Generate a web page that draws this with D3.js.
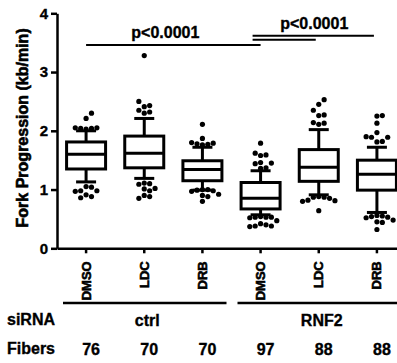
<!DOCTYPE html>
<meta charset="utf-8">
<style>
    body { margin: 0; background: #fff; }
    svg text { font-family: "Liberation Sans", Arial, sans-serif; font-weight: bold; fill: #000; stroke: #000; stroke-width: 0.35px; }
    svg text.rot { stroke-width: 0.6px; }
</style>
<svg width="397" height="363"></svg>

<script src="https://d3js.org/d3.v7.min.js"></script>
<script>
    var categories = ["DMSO", "LDC", "DRB", "DMSO", "LDC", "DRB"],
        sirna = ["ctrl", "ctrl", "ctrl", "RNF2", "RNF2", "RNF2"],
        fibers = [76, 70, 70, 97, 88, 88];

    // box stats: lower whisker, Q1, median, Q3, upper whisker
    var whiskerLow = [1.13, 1.19, 0.99, 0.57, 0.91, 0.61],
        q1 = [1.35, 1.37, 1.15, 0.67, 1.14, 0.99],
        median = [1.60, 1.62, 1.34, 0.85, 1.38, 1.26],
        q3 = [1.81, 1.91, 1.49, 1.12, 1.68, 1.50],
        whiskerHigh = [2.00, 2.21, 1.72, 1.32, 2.02, 1.72];

    var outliers = [
        [2.30, 2.21, 2.05, 2.04, 2.04, 2.05, 2.03, 1.05, 1.04, 0.98, 0.98, 0.97, 0.91, 0.88, 0.86],
        [3.28, 2.50, 2.43, 2.41, 2.35, 2.32, 2.30, 1.11, 1.10, 1.09, 1.02, 1.01, 0.98, 0.90, 0.88, 0.85],
        [2.11, 1.87, 1.80, 1.79, 1.77, 1.76, 1.78, 1.00, 0.98, 0.99, 1.00, 0.97, 0.92, 0.90, 0.88, 0.80],
        [1.79, 1.62, 1.59, 1.58, 1.45, 1.46, 1.44, 1.36, 1.37, 0.54, 0.53, 0.53, 0.52, 0.53, 0.47, 0.42, 0.38, 0.37, 0.38, 0.40],
        [2.53, 2.45, 2.35, 2.27, 2.26, 2.14, 2.13, 2.11, 0.87, 0.88, 0.87, 0.85, 0.81, 0.80, 0.82, 0.64],
        [2.26, 2.25, 2.13, 1.97, 1.90, 1.89, 1.89, 1.82, 1.81, 0.56, 0.54, 0.53, 0.52, 0.55, 0.48, 0.45, 0.44, 0.32]
    ];

    var yTicks = [0, 1, 2, 3, 4];

    // significance bars: from index, to index, level, label
    var sigFrom = [0, 3, 3],
        sigTo = [3, 5, 4],
        sigLevel = [3.46, 3.62, 3.55],
        sigLabel = ["p<0.0001", "p<0.0001", ""];

    var svg = d3.select("svg"),
        idx = d3.range(categories.length);

    var x = d3.scaleBand().domain(idx).range([57, 406]),
        bw = x.bandwidth(),
        cx = function (i) { return x(i) + bw / 2; },
        y = d3.scaleLinear().domain([0, 4]).range([248.3, 13.3]);

    // axes
    var yAxis = svg.append("g")
        .attr("transform", "translate(57,0)")
        .call(d3.axisLeft(y).tickValues(yTicks).tickFormat(d3.format("d")).tickSize(6).tickSizeOuter(0));
    yAxis.select(".domain").attr("stroke-width", 2.5);
    yAxis.selectAll(".tick line").attr("stroke-width", 2.5);
    yAxis.selectAll(".tick text").attr("font-size", 15).attr("x", -9);

    var xAxis = svg.append("g")
        .attr("transform", "translate(0," + y(0) + ")")
        .call(d3.axisBottom(x).tickSize(5).tickSizeOuter(0).tickFormat(function (i) { return categories[i]; }));
    xAxis.select(".domain").attr("stroke-width", 2.5);
    xAxis.selectAll(".tick line").attr("stroke-width", 2.5);
    xAxis.selectAll(".tick text")
        .attr("class", "rot")
        .attr("font-size", 13)
        .attr("transform", "rotate(-90)")
        .attr("x", -13).attr("y", 0).attr("dy", "0.35em")
        .attr("text-anchor", "end");

    svg.append("text")
        .attr("class", "rot")
        .attr("transform", "translate(28," + y(2.05) + ") rotate(-90)")
        .attr("text-anchor", "middle")
        .attr("font-size", 16)
        .text("Fork Progression (kb/min)");

    // boxes
    var boxW = 39, capW = 20;
    var g = svg.append("g").attr("stroke", "#000").attr("stroke-width", 3).attr("fill", "none");
    idx.forEach(function (i) {
        var c = cx(i);
        g.append("line").attr("x1", c).attr("x2", c).attr("y1", y(whiskerHigh[i])).attr("y2", y(q3[i]));
        g.append("line").attr("x1", c).attr("x2", c).attr("y1", y(q1[i])).attr("y2", y(whiskerLow[i]));
        g.append("line").attr("x1", c - capW / 2).attr("x2", c + capW / 2).attr("y1", y(whiskerHigh[i])).attr("y2", y(whiskerHigh[i]));
        g.append("line").attr("x1", c - capW / 2).attr("x2", c + capW / 2).attr("y1", y(whiskerLow[i])).attr("y2", y(whiskerLow[i]));
        g.append("rect").attr("x", c - boxW / 2).attr("y", y(q3[i])).attr("width", boxW).attr("height", y(q1[i]) - y(q3[i]));
        g.append("line").attr("x1", c - boxW / 2).attr("x2", c + boxW / 2).attr("y1", y(median[i])).attr("y2", y(median[i]));
    });

    // outlier dots, simple greedy beeswarm
    var r = 2.6, minD = 5.4, step = 5.4;
    idx.forEach(function (i) {
        var pts = outliers[i].slice().sort(function (a, b) {
            return Math.abs(a - median[i]) - Math.abs(b - median[i]);
        });
        var placed = [];
        pts.forEach(function (v) {
            var py = y(v), k = 0, px;
            while (true) {
                var off = k === 0 ? 0 : (k % 2 ? 1 : -1) * Math.ceil(k / 2) * step;
                px = cx(i) + off;
                var hit = placed.some(function (p) {
                    return Math.hypot(p[0] - px, p[1] - py) < minD;
                });
                if (!hit) break;
                k++;
            }
            placed.push([px, py]);
        });
        svg.append("g").selectAll("circle").data(placed).enter().append("circle")
            .attr("cx", function (d) { return d[0]; })
            .attr("cy", function (d) { return d[1]; })
            .attr("r", r)
            .attr("fill", "#000");
    });

    // significance bars
    sigLevel.forEach(function (v, k) {
        var x1 = k === 0 ? cx(sigFrom[k]) : cx(sigFrom[k]) - 8,
            x2 = k === 0 ? cx(sigTo[k]) : cx(sigTo[k]) - 3;
        svg.append("line").attr("x1", x1).attr("x2", x2).attr("y1", y(v)).attr("y2", y(v))
            .attr("stroke", "#000").attr("stroke-width", 2);
        if (sigLabel[k]) {
            svg.append("text")
                .attr("x", (x1 + x2) / 2 - (k === 0 ? 8 : -1))
                .attr("y", y(v) - 7)
                .attr("text-anchor", "middle")
                .attr("font-size", 16)
                .text(sigLabel[k]);
        }
    });

    // siRNA group rows
    var groups = ["ctrl", "RNF2"];
    groups.forEach(function (name) {
        var members = idx.filter(function (i) { return sirna[i] === name; }),
            a = x(members[0]), b = x(members[members.length - 1]) + bw;
        svg.append("line").attr("x1", a + 6).attr("x2", b - 5).attr("y1", 303).attr("y2", 303)
            .attr("stroke", "#000").attr("stroke-width", 2.5);
        svg.append("text")
            .attr("x", (a + b) / 2 + 3)
            .attr("y", 326)
            .attr("text-anchor", "middle")
            .attr("font-size", 16)
            .text(name);
    });

    svg.append("text").attr("x", 7).attr("y", 325).attr("font-size", 16).text("siRNA");
    svg.append("text").attr("x", 7).attr("y", 354).attr("font-size", 16).text("Fibers");

    svg.append("g").selectAll("text").data(fibers).enter().append("text")
        .attr("x", function (d, i) { return cx(i) + 5; })
        .attr("y", 355)
        .attr("text-anchor", "middle")
        .attr("font-size", 16)
        .text(function (d) { return d; });
</script>
